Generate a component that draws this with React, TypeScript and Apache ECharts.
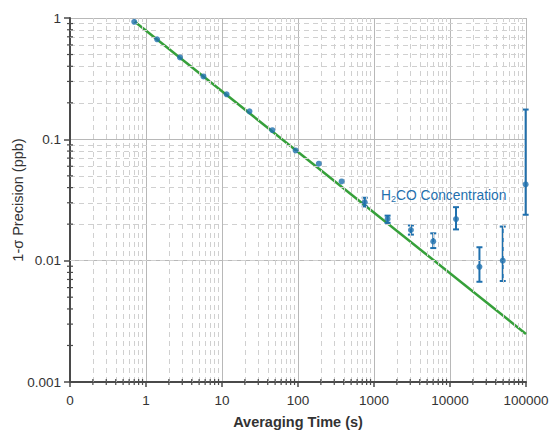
import React, { useEffect, useRef } from "react";
import * as echarts from "echarts";

const times = [0.7, 1.4, 2.8, 5.7, 11.5, 23, 46, 93, 188, 375, 755, 1510, 3060, 6020, 12000, 24400, 49400, 98900];
const precision = [0.93, 0.667, 0.473, 0.33, 0.235, 0.17, 0.119, 0.081, 0.063, 0.045, 0.0303, 0.0221, 0.0179, 0.0144, 0.022, 0.0089, 0.01, 0.0425];

const errTimes = [755, 1510, 3060, 6020, 12000, 24400, 49400, 98900];
const errLow = [0.028, 0.0205, 0.0164, 0.0127, 0.0181, 0.0067, 0.0068, 0.0239];
const errHigh = [0.033, 0.0235, 0.0195, 0.0168, 0.0276, 0.0129, 0.0191, 0.176];

const fitTimes = [0.7, 100000];
const fitValues = [0.94, 0.00249];

const xDecades = [0.1, 1, 10, 100, 1000, 10000];
const yDecades = [0.001, 0.01, 0.1];
const minorSteps = [2, 3, 4, 5, 6, 7, 8, 9];

const X_MIN = 0.1;
const Y_MIN = 0.001;

const BLUE = "#1f70ae";
const GREEN = "#36a03a";
const AXIS = "#4a4a4a";
const FONT = "Liberation Sans";

export default function App() {
  const ref = useRef<HTMLDivElement>(null);
  useEffect(() => {
    if (!ref.current) return;
    const chart = echarts.init(ref.current, null, { renderer: "svg" });
    const minorXVals: number[] = [];
    xDecades.forEach((d) => minorSteps.forEach((k) => minorXVals.push(+(d * k).toPrecision(6))));
    const minorYVals: number[] = [];
    yDecades.forEach((d) => minorSteps.forEach((k) => minorYVals.push(+(d * k).toPrecision(6))));

    const fmt = (v: number) => String(+v.toPrecision(6));

    chart.setOption({
      animation: false,
      backgroundColor: "#ffffff",
      grid: { left: 70, top: 18, right: 25, bottom: 48, containLabel: false, outerBoundsMode: "none" },
      xAxis: {
        type: "log",
        logBase: 10,
        min: X_MIN,
        max: 100000,
        name: "Averaging Time (s)",
        nameLocation: "middle",
        nameGap: 32,
        nameMoveOverlap: false,
        nameTextStyle: { fontFamily: FONT, fontSize: 14.5, color: "#333", fontWeight: "bold" },
        axisLine: { show: true, lineStyle: { color: AXIS, width: 2 } },
        axisTick: { show: true, inside: false, length: 5, lineStyle: { color: AXIS, width: 1.5 } },
        axisLabel: {
          fontFamily: FONT,
          fontSize: 13.5,
          color: "#333",
          margin: 11,
          formatter: (v: number) => (v < 1 ? "0" : fmt(v)),
        },
        splitLine: { show: true, lineStyle: { color: "#b8b8b8", width: 1 } },
      },
      yAxis: {
        type: "log",
        logBase: 10,
        min: Y_MIN,
        max: 1,
        name: "1-σ Precision (ppb)",
        nameLocation: "middle",
        nameGap: 45,
        nameMoveOverlap: false,
        nameRotate: 90,
        nameTextStyle: { fontFamily: FONT, fontSize: 14.5, color: "#333" },
        axisLine: { show: true, lineStyle: { color: AXIS, width: 2 } },
        axisTick: { show: true, inside: false, length: 6, lineStyle: { color: AXIS, width: 1.5 } },
        axisLabel: {
          fontFamily: FONT,
          fontSize: 13.5,
          color: "#333",
          margin: 9,
          formatter: (v: number) => fmt(v),
        },
        splitLine: { show: true, lineStyle: { color: "#b8b8b8", width: 1 } },
      },
      graphic: [
        {
          type: "text",
          left: 381,
          top: 188,
          z: 10,
          style: {
            text: "{a|H}{s|2}{a|CO Concentration}",
            rich: {
              a: { fontFamily: FONT, fontSize: 13.8, fill: BLUE, color: BLUE },
              s: { fontFamily: FONT, fontSize: 9, fill: BLUE, color: BLUE, verticalAlign: "bottom", padding: [7, 0, 0, 0] },
            },
          },
        },
      ],
      series: [
        {
          type: "line",
          data: [],
          silent: true,
          z: 1,
          markLine: {
            silent: true,
            symbol: ["none", "none"],
            label: { show: false },
            lineStyle: { color: "#d0d0d0", type: [5, 4], width: 1 },
            data: [
              ...minorXVals.map((v) => ({ xAxis: v })),
              ...minorYVals.map((v) => ({ yAxis: v })),
            ],
          },
        },
        {
          type: "custom",
          silent: true,
          z: 6,
          clip: false,
          data: minorXVals.map((v) => [v, Y_MIN]),
          encode: { x: 0, y: 1 },
          renderItem: (params: any, api: any) => {
            const p = api.coord([api.value(0), api.value(1)]);
            return { type: "line", shape: { x1: p[0], y1: p[1] - 3, x2: p[0], y2: p[1] + 3 }, style: { stroke: AXIS, lineWidth: 1.2 } };
          },
        },
        {
          type: "custom",
          silent: true,
          z: 6,
          clip: false,
          data: minorYVals.map((v) => [X_MIN, v]),
          encode: { x: 0, y: 1 },
          renderItem: (params: any, api: any) => {
            const p = api.coord([api.value(0), api.value(1)]);
            return { type: "line", shape: { x1: p[0] - 3, y1: p[1], x2: p[0] + 3, y2: p[1] }, style: { stroke: AXIS, lineWidth: 1.2 } };
          },
        },
        {
          type: "line",
          data: fitTimes.map((t, i) => [t, fitValues[i]]),
          showSymbol: false,
          lineStyle: { color: GREEN, width: 2.5 },
          z: 3,
        },
        {
          type: "custom",
          z: 4,
          data: errTimes.map((t, i) => [t, errLow[i], errHigh[i]]),
          encode: { x: 0, y: [1, 2] },
          renderItem: (params: any, api: any) => {
            const x = api.value(0);
            const lo = api.value(1);
            const hi = api.value(2);
            const p1 = api.coord([x, hi]);
            const p2 = api.coord([x, lo]);
            const w = 3;
            const st = { stroke: BLUE, lineWidth: 2 };
            return {
              type: "group",
              children: [
                { type: "line", shape: { x1: p1[0], y1: p1[1], x2: p2[0], y2: p2[1] }, style: st },
                { type: "line", shape: { x1: p1[0] - w, y1: p1[1], x2: p1[0] + w, y2: p1[1] }, style: st },
                { type: "line", shape: { x1: p2[0] - w, y1: p2[1], x2: p2[0] + w, y2: p2[1] }, style: st },
              ],
            };
          },
        },
        {
          type: "scatter",
          z: 5,
          data: times.map((t, i) => [t, precision[i]]),
          symbol: "circle",
          symbolSize: 6,
          itemStyle: { color: BLUE },
        },
      ],
    });
    return () => chart.dispose();
  }, []);
  return (
    <div
      ref={ref}
      style={{ position: "fixed", left: 0, top: 0, width: 551, height: 430, background: "#fff" }}
    />
  );
}
